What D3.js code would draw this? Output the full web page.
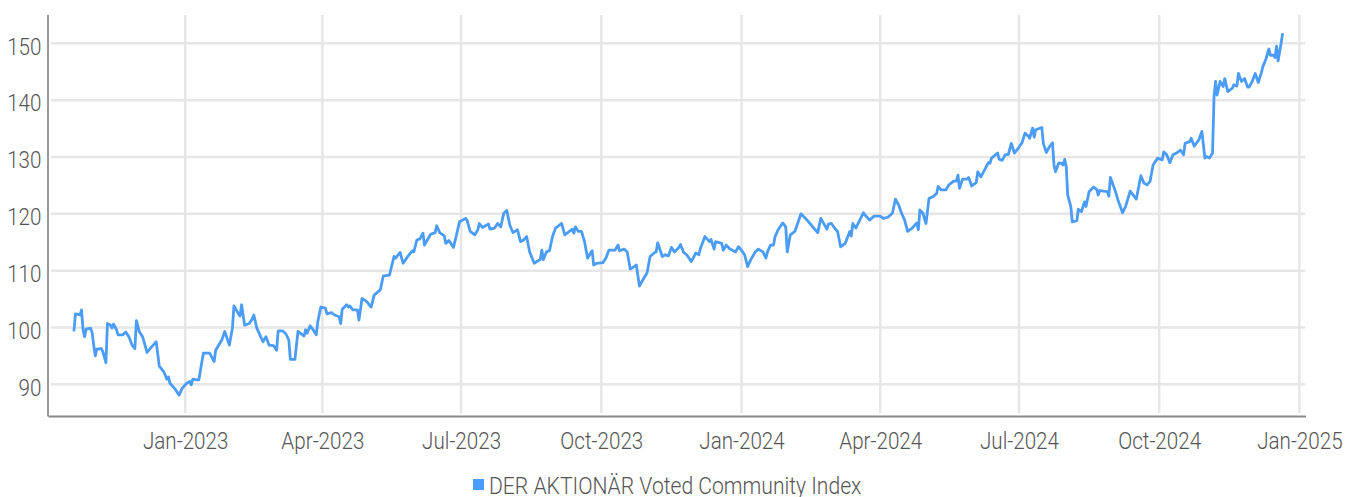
<!DOCTYPE html>
<html>
  <head>
    <meta charset="utf-8">
    <script src="https://d3js.org/d3.v7.min.js"></script>
    <title>DER AKTIONÄR Voted Community Index</title>
    <style>
      body { margin: 0; background: #fff; }
      svg text { font-family: Roboto, "Liberation Sans", sans-serif; font-weight: 300; fill: #555; }
    </style>
  </head>
  <body>
    <svg width="1346" height="497"></svg>
    <script>
      const seriesName = 'DER AKTIONÄR Voted Community Index';

      const dates = [
        "2022-10-20","2022-10-21","2022-10-23","2022-10-24","2022-10-25","2022-10-26","2022-10-27","2022-10-28","2022-10-31",
        "2022-11-01","2022-11-02","2022-11-03","2022-11-04","2022-11-07","2022-11-08","2022-11-10","2022-11-11","2022-11-13",
        "2022-11-14","2022-11-15","2022-11-17","2022-11-18","2022-11-21","2022-11-23","2022-11-25","2022-11-27","2022-11-29",
        "2022-11-30","2022-12-02","2022-12-04","2022-12-05","2022-12-07","2022-12-09","2022-12-11","2022-12-13","2022-12-15",
        "2022-12-18","2022-12-20","2022-12-21","2022-12-22","2022-12-25","2022-12-28","2022-12-30",
        "2023-01-02","2023-01-04","2023-01-05","2023-01-06","2023-01-09","2023-01-10","2023-01-12","2023-01-13","2023-01-17",
        "2023-01-20","2023-01-21","2023-01-25","2023-01-27","2023-01-30","2023-02-01","2023-02-02","2023-02-05","2023-02-06",
        "2023-02-07","2023-02-09","2023-02-12","2023-02-14","2023-02-15","2023-02-17","2023-02-19","2023-02-21","2023-02-23",
        "2023-02-25","2023-02-28","2023-03-02","2023-03-03","2023-03-06","2023-03-08","2023-03-10","2023-03-11","2023-03-14",
        "2023-03-16","2023-03-20","2023-03-21","2023-03-22","2023-03-24","2023-03-26","2023-03-28","2023-03-29","2023-03-31",
        "2023-04-03","2023-04-04","2023-04-07","2023-04-09","2023-04-12","2023-04-13","2023-04-14","2023-04-17","2023-04-18",
        "2023-04-19","2023-04-21","2023-04-24","2023-04-25","2023-04-27","2023-04-30","2023-05-03","2023-05-05","2023-05-08",
        "2023-05-09","2023-05-11","2023-05-15","2023-05-18","2023-05-19","2023-05-22","2023-05-24","2023-05-27","2023-05-30",
        "2023-05-31","2023-06-02","2023-06-04","2023-06-06","2023-06-07","2023-06-11","2023-06-14","2023-06-15","2023-06-17",
        "2023-06-20","2023-06-21","2023-06-23","2023-06-26","2023-06-28","2023-06-30","2023-07-04","2023-07-05","2023-07-07",
        "2023-07-10","2023-07-12","2023-07-13","2023-07-15","2023-07-19","2023-07-20","2023-07-23","2023-07-25","2023-07-27",
        "2023-07-29","2023-07-31","2023-08-02","2023-08-04","2023-08-07","2023-08-09","2023-08-11","2023-08-13","2023-08-15",
        "2023-08-18","2023-08-21","2023-08-22","2023-08-23","2023-08-24","2023-08-26","2023-08-28","2023-08-30","2023-09-01",
        "2023-09-05","2023-09-07","2023-09-12","2023-09-13","2023-09-14","2023-09-16","2023-09-18","2023-09-20","2023-09-22",
        "2023-09-24","2023-09-25","2023-09-26","2023-09-28","2023-10-02","2023-10-04","2023-10-06","2023-10-10","2023-10-12",
        "2023-10-13","2023-10-16","2023-10-18","2023-10-20","2023-10-23","2023-10-24","2023-10-26","2023-10-29","2023-10-31",
        "2023-11-02","2023-11-05","2023-11-06","2023-11-07","2023-11-10","2023-11-12","2023-11-14","2023-11-16","2023-11-18",
        "2023-11-21","2023-11-22","2023-11-24","2023-11-26","2023-11-29","2023-12-02","2023-12-04","2023-12-05","2023-12-08",
        "2023-12-11","2023-12-12","2023-12-14","2023-12-15","2023-12-19","2023-12-20","2023-12-22","2023-12-24","2023-12-28",
        "2023-12-30","2024-01-01","2024-01-03","2024-01-05","2024-01-07","2024-01-10","2024-01-12","2024-01-15","2024-01-17",
        "2024-01-18","2024-01-20","2024-01-22","2024-01-23","2024-01-25","2024-01-28","2024-01-30","2024-01-31","2024-02-02",
        "2024-02-05","2024-02-09","2024-02-14","2024-02-17","2024-02-20","2024-02-22","2024-02-26","2024-02-27","2024-02-29",
        "2024-03-02","2024-03-04","2024-03-06","2024-03-09","2024-03-12","2024-03-13","2024-03-14","2024-03-16","2024-03-18",
        "2024-03-21","2024-03-22","2024-03-25","2024-03-28","2024-04-01","2024-04-03","2024-04-06","2024-04-09","2024-04-11",
        "2024-04-13","2024-04-15","2024-04-17","2024-04-19","2024-04-22","2024-04-25","2024-04-26","2024-04-27","2024-04-29",
        "2024-05-01","2024-05-03","2024-05-06","2024-05-08","2024-05-09","2024-05-11","2024-05-14","2024-05-16","2024-05-19",
        "2024-05-21","2024-05-22","2024-05-23","2024-05-25","2024-05-28","2024-05-29","2024-05-31","2024-06-03","2024-06-04",
        "2024-06-06","2024-06-09","2024-06-11","2024-06-12","2024-06-13","2024-06-17","2024-06-18","2024-06-20","2024-06-22",
        "2024-06-24","2024-06-26","2024-06-28","2024-07-01","2024-07-03","2024-07-05","2024-07-07","2024-07-08","2024-07-10",
        "2024-07-11","2024-07-12","2024-07-16","2024-07-17","2024-07-19","2024-07-21","2024-07-23","2024-07-24","2024-07-25",
        "2024-07-27","2024-07-29","2024-07-30","2024-07-31","2024-08-01","2024-08-02","2024-08-04","2024-08-05","2024-08-08",
        "2024-08-09","2024-08-11","2024-08-13","2024-08-14","2024-08-16","2024-08-19","2024-08-21","2024-08-22","2024-08-23",
        "2024-08-28","2024-08-29","2024-08-30","2024-09-02","2024-09-04","2024-09-07","2024-09-09","2024-09-12","2024-09-14",
        "2024-09-16","2024-09-19","2024-09-21","2024-09-23","2024-09-25","2024-09-27","2024-09-30","2024-10-03","2024-10-04",
        "2024-10-06","2024-10-08","2024-10-10","2024-10-13","2024-10-15","2024-10-17","2024-10-18","2024-10-21","2024-10-22",
        "2024-10-24","2024-10-27","2024-10-29","2024-10-31","2024-11-01","2024-11-03","2024-11-05","2024-11-06","2024-11-07",
        "2024-11-08","2024-11-10","2024-11-12","2024-11-13","2024-11-15","2024-11-18","2024-11-19","2024-11-21","2024-11-22",
        "2024-11-24","2024-11-26","2024-11-28","2024-11-29","2024-12-01","2024-12-03","2024-12-05","2024-12-07","2024-12-08",
        "2024-12-10","2024-12-12","2024-12-13","2024-12-15","2024-12-16","2024-12-17","2024-12-18","2024-12-20","2024-12-21"
      ];

      const values = [
        99.3,102.4,102.3,102.2,103.1,99.6,98.4,99.7,99.9,
        99.0,96.9,95.0,96.2,96.3,95.7,93.8,100.7,100.4,
        99.9,100.6,99.6,98.7,98.7,99.2,98.4,97.0,96.3,
        101.2,99.2,98.4,97.5,95.6,96.3,96.9,97.5,93.2,
        92.2,90.9,91.3,90.2,89.3,88.1,89.3,
        90.2,90.5,89.9,90.9,90.8,90.8,94.0,95.5,95.5,
        94.0,96.0,97.8,99.3,96.9,99.9,103.8,102.4,102.0,
        104.0,100.4,100.7,101.5,102.2,99.9,98.7,97.5,98.4,
        96.9,96.8,96.0,99.4,99.4,98.9,97.8,94.4,94.4,
        99.3,98.5,99.6,99.0,100.3,99.6,98.7,101.0,103.6,
        103.4,102.4,102.6,102.2,101.9,100.7,103.2,104.0,103.6,
        103.8,103.1,103.1,101.3,105.1,104.6,103.6,105.7,106.4,
        106.6,109.1,109.2,112.5,112.2,113.2,111.3,112.5,113.5,
        113.3,115.4,115.6,116.6,114.5,116.4,116.7,117.9,116.7,
        116.1,114.8,115.3,114.1,116.3,118.6,119.2,118.8,116.9,
        116.3,117.2,118.3,117.6,118.2,117.3,117.5,118.3,117.7,
        120.1,120.6,118.0,116.7,117.2,115.1,115.4,116.0,113.3,
        111.3,111.8,112.0,113.6,111.9,113.3,113.5,116.0,117.5,
        118.3,116.3,117.3,116.6,117.7,116.9,116.9,115.1,112.2,
        113.1,113.5,111.0,111.3,111.4,112.2,113.6,113.6,114.5,
        113.5,113.8,113.3,110.3,110.8,111.0,107.3,108.7,109.6,
        112.5,113.2,113.3,114.9,112.5,112.8,112.6,114.1,113.3,
        114.1,114.6,113.2,112.8,111.6,113.1,112.8,113.9,116.0,
        115.1,115.5,113.8,115.1,114.8,113.6,114.5,113.9,113.3,
        114.2,113.6,112.8,110.7,111.9,113.3,113.8,113.3,112.2,
        113.3,114.5,114.5,116.0,117.2,118.4,117.7,113.3,116.3,
        116.9,120.0,118.6,117.6,116.7,119.2,117.3,118.2,118.3,
        117.5,116.9,114.2,114.8,116.9,116.1,118.3,117.5,118.6,
        120.2,119.8,118.9,119.6,119.6,119.2,119.4,120.1,122.6,
        121.6,120.1,118.9,116.9,117.5,118.4,117.2,120.7,120.1,
        118.3,122.7,123.1,123.6,124.8,124.2,124.2,125.1,125.7,
        125.8,126.8,124.5,126.1,126.1,126.4,124.9,125.5,127.4,
        126.5,128.0,129.0,128.9,129.8,130.7,129.6,129.4,130.4,
        130.4,132.4,130.7,131.7,132.5,134.2,133.7,133.3,135.1,
        133.5,134.8,135.2,132.4,130.8,131.8,132.5,128.6,127.4,
        128.9,128.9,128.6,129.6,128.4,123.3,121.3,118.6,118.8,
        120.8,120.4,122.1,121.3,123.9,124.7,124.3,123.3,124.1,
        123.9,123.1,126.4,124.2,122.4,120.2,121.3,124.0,123.3,
        122.6,126.7,125.4,125.1,125.7,128.6,129.8,129.5,130.9,
        130.4,129.0,130.4,130.8,131.2,130.4,132.4,132.7,133.3,
        131.9,133.0,134.5,129.8,130.1,129.8,130.7,140.6,143.3,
        140.9,143.3,142.4,143.8,141.5,142.1,142.7,142.5,144.7,
        143.3,143.8,142.3,142.3,143.3,144.7,143.1,144.8,145.9,
        147.2,149.0,147.9,147.9,147.5,149.5,146.9,150.0,151.8
      ];

      const yTicks = [90, 100, 110, 120, 130, 140, 150];
      const xTicks = ["2023-01-01","2023-04-01","2023-07-01","2023-10-01","2024-01-01","2024-04-01","2024-07-01","2024-10-01","2025-01-01"];
      const xRange = ["2022-10-03", "2025-01-05"];

      const lineColor = '#4a9cf6';
      const textScale = 0.86;

      const parse = d3.timeParse('%Y-%m-%d');
      const data = dates.map((d, i) => ({ date: parse(d), value: values[i] }));

      const svg = d3.select('svg');

      const x = d3.scaleTime()
        .domain(xRange.map(parse))
        .range([48, 1305.5]);
      const y = d3.scaleLinear()
        .domain([84.5, 155])
        .range([415.6, 14.9]);

      // grid
      svg.append('g')
        .selectAll('line')
        .data(yTicks)
        .join('line')
          .attr('x1', 51).attr('x2', 1305)
          .attr('y1', d => y(d)).attr('y2', d => y(d))
          .attr('stroke', '#e6e6e6')
          .attr('stroke-width', 2.5);

      svg.append('g')
        .selectAll('line')
        .data(xTicks.map(parse))
        .join('line')
          .attr('x1', d => x(d)).attr('x2', d => x(d))
          .attr('y1', 15).attr('y2', 413)
          .attr('stroke', '#e6e6e6')
          .attr('stroke-width', 2.5);

      // axes
      const yAxis = svg.append('g')
        .attr('transform', 'translate(48,0)')
        .call(d3.axisLeft(y).tickValues(yTicks).tickSize(0).tickSizeOuter(0));
      yAxis.select('.domain').attr('stroke', '#999').attr('stroke-width', 2)
        .attr('d', `M0,15V${y.range()[0] + 1}`);
      yAxis.selectAll('text')
        .attr('font-size', 24)
        .attr('font-family', null)
        .attr('x', -6.5 / textScale)
        .attr('dy', '0.45em')
        .attr('transform', `scale(${textScale},1)`);

      const xAxis = svg.append('g')
        .attr('transform', 'translate(0,416)')
        .call(d3.axisBottom(x).tickValues(xTicks.map(parse)).tickSize(0).tickSizeOuter(0)
          .tickFormat(d3.timeFormat('%b-%Y')));
      xAxis.select('.domain').attr('stroke', '#888').attr('stroke-width', 2);
      xAxis.selectAll('text')
        .attr('font-size', 24)
        .attr('font-family', null)
        .attr('y', 33)
        .attr('dy', 0)
        .attr('transform', `scale(${textScale},1)`);

      // series
      const line = d3.line()
        .x(d => x(d.date))
        .y(d => y(d.value));

      svg.append('path')
        .datum(data)
        .attr('fill', 'none')
        .attr('stroke', lineColor)
        .attr('stroke-width', 2.8)
        .attr('stroke-linejoin', 'round')
        .attr('d', line);

      // legend
      const legend = svg.append('g');
      legend.append('rect')
        .attr('x', 473).attr('y', 479)
        .attr('width', 11).attr('height', 11)
        .attr('fill', lineColor);
      legend.append('g')
        .attr('transform', 'translate(489,494)')
        .append('text')
          .attr('font-size', 24)
          .attr('transform', 'scale(0.88,1)')
          .text(seriesName);
    </script>
  </body>
</html>
